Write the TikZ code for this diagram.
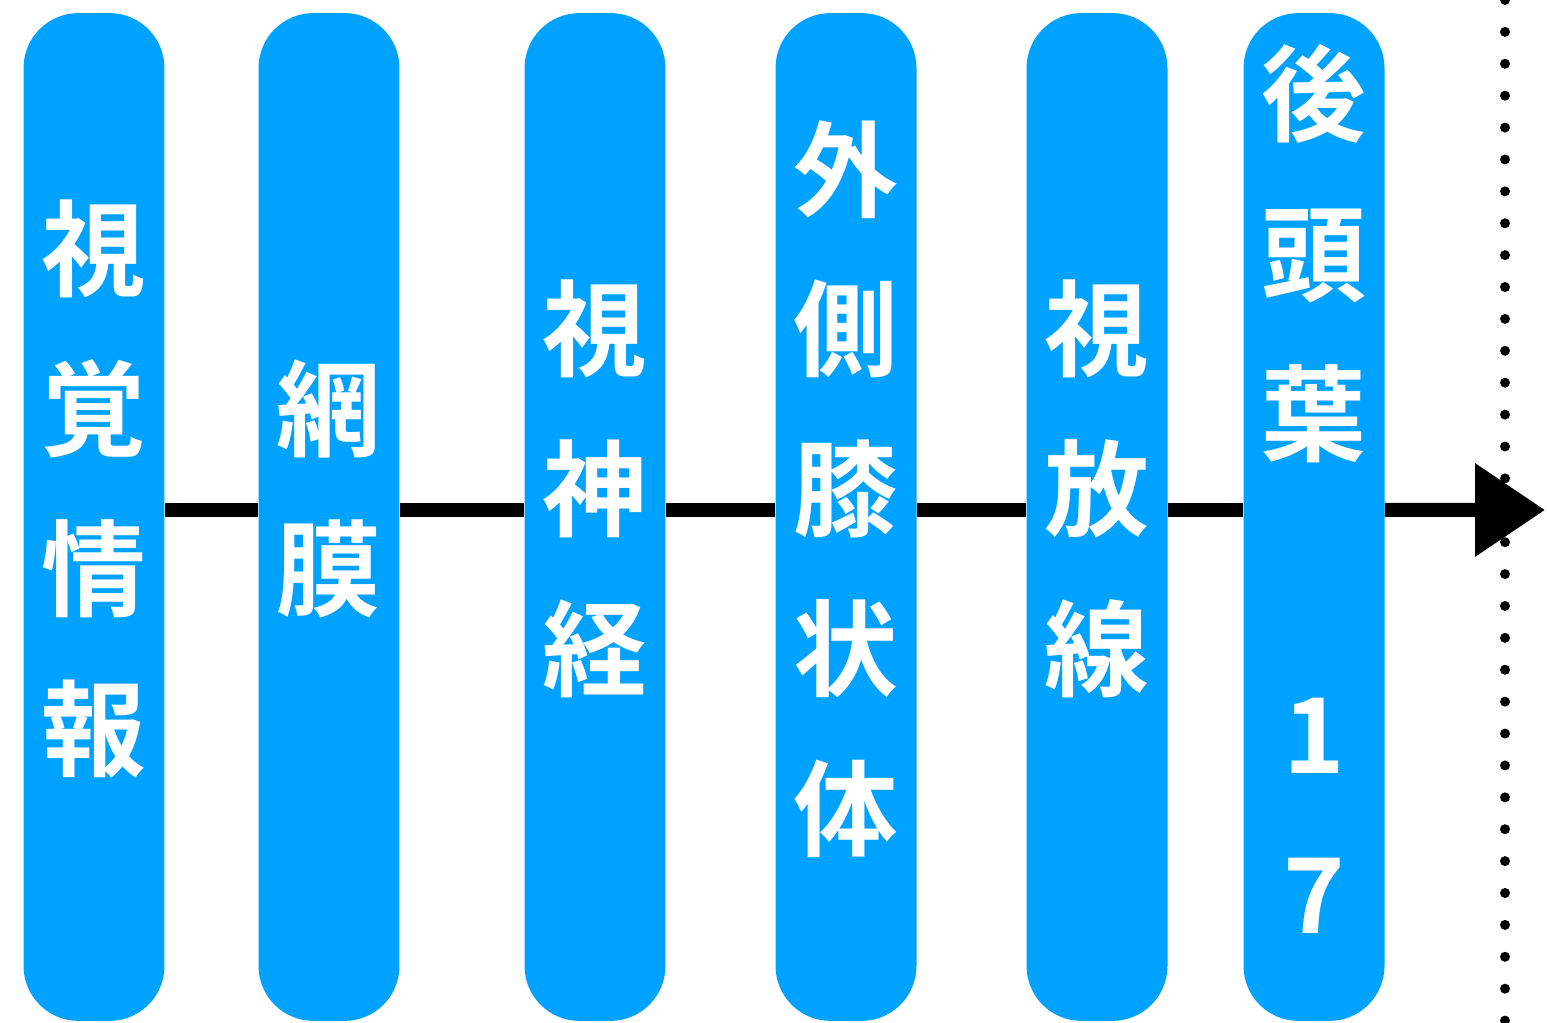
\documentclass[tikz,border=0pt]{standalone}
\usepackage{fontspec}
\newfontfamily\jpfont{Noto Sans CJK JP}[BoldFont={Noto Sans CJK JP Bold}]
\usetikzlibrary{arrows.meta}
\definecolor{pillblue}{RGB}{0,162,255}
\begin{document}
\begin{tikzpicture}[x=0.02cm, y=0.02cm]
        \tikzset{pill/.style={fill=pillblue, rounded corners=1.1cm, inner sep=0pt, minimum width=2.82cm, minimum height=20.16cm}}
        \tikzset{word/.style={text=white, inner sep=0pt, align=center, font=\jpfont\bfseries\fontsize{59.5}{91}\selectfont}}
        \tikzset{flow/.style={black, line width=0.28cm}}
        \tikzset{dots/.style={black, line width=0.2cm, line cap=round, dash pattern=on 0pt off 0.638cm}}
        \useasboundingbox (0, 0) rectangle (1547, 1023);
        % boxes
        \node[pill] (shikaku) at (94, 506) {};
        \node[pill] (moumaku) at (329, 506) {};
        \node[pill] (shishinkei) at (595, 506) {};
        \node[pill] (gaisoku) at (846, 506) {};
        \node[pill] (shihousen) at (1097, 506) {};
        \node[pill] (koutouyou) at (1314, 506) {};
        % labels
        \node[word] (shikaku-t) at ([yshift=0.56cm]shikaku) {視\\覚\\情\\報};
        \node[word] (moumaku-t) at ([yshift=0.56cm]moumaku) {網\\膜};
        \node[word] (shishinkei-t) at ([yshift=0.56cm]shishinkei) {視\\神\\経};
        \node[word] (gaisoku-t) at ([yshift=0.56cm]gaisoku) {外\\側\\膝\\状\\体};
        \node[word] (shihousen-t) at ([yshift=0.56cm]shihousen) {視\\放\\線};
        \node[word] (koutouyou-t) at ([yshift=0.56cm]koutouyou) {後\\頭\\葉\\\phantom{葉}\\1\\7};
        % dotted border
        \draw[dots] (1505, 1023) -- (1505, 0);
        % arrows
        \coordinate (tip) at (1545, 513);
        \draw[flow] ([yshift=0.14cm]shikaku.east) -- ([yshift=0.14cm]moumaku.west);
        \draw[flow] ([yshift=0.14cm]moumaku.east) -- ([yshift=0.14cm]shishinkei.west);
        \draw[flow] ([yshift=0.14cm]shishinkei.east) -- ([yshift=0.14cm]gaisoku.west);
        \draw[flow] ([yshift=0.14cm]gaisoku.east) -- ([yshift=0.14cm]shihousen.west);
        \draw[flow] ([yshift=0.14cm]shihousen.east) -- ([yshift=0.14cm]koutouyou.west);
        \draw[flow, -{Triangle[length=1.4cm, width=1.8cm]}] ([yshift=0.14cm]koutouyou.east) -- (tip);
\end{tikzpicture}
\end{document}
